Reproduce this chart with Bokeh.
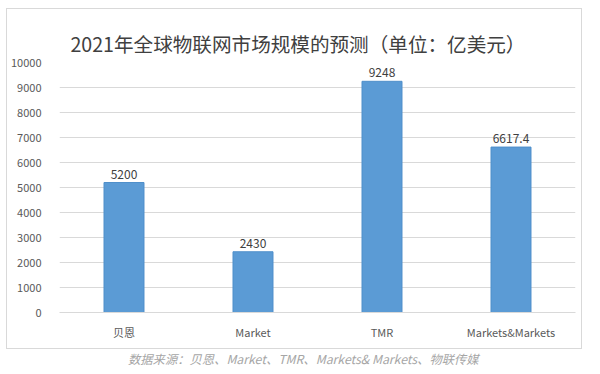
from bokeh.plotting import figure
from bokeh.models import ColumnDataSource, LabelSet, Title, FactorRange, Div
from bokeh.layouts import column
from bokeh.core.properties import value
from bokeh.embed import file_html
from bokeh.resources import INLINE

categories = ["贝恩", "Market", "TMR", "Markets&Markets"]
values = [5200, 2430, 9248, 6617.4]
value_labels = ["5200", "2430", "9248", "6617.4"]
y_ticks = [0, 1000, 2000, 3000, 4000, 5000, 6000, 7000, 8000, 9000, 10000]

title_text = "2021年全球物联网市场规模的预测（单位：亿美元）"
source_text = "数据来源：贝恩、Market、TMR、Markets& Markets、物联传媒"

FONT = "Noto Sans CJK SC"

src = ColumnDataSource(dict(cat=categories, val=values, lab=value_labels))

p = figure(width=576, height=341, x_range=FactorRange(*categories, range_padding=0),
           y_range=(0, 10000), output_backend="svg", toolbar_location=None,
           min_border_left=52, min_border_right=8, min_border_top=53, min_border_bottom=38,
           margin=(8, 0, 0, 6), styles={"border": "1px solid #d9d9d9", "box-sizing": "border-box"})
p.title = None
p.background_fill_color = "white"
p.border_fill_color = "white"
p.outline_line_color = None

t = Title(text=title_text, align="left", offset=11, text_font=FONT, text_font_size="19.6px",
          text_font_style="normal", text_color="#404040", standoff=5, vertical_align="top")
p.add_layout(t, "above")

p.vbar(x="cat", top="val", width=0.31, source=src, fill_color="#5b9bd5", line_color="#4f8fca")

labels = LabelSet(x="cat", y="val", text="lab", source=src, text_align="center",
                  text_baseline="bottom", y_offset=4, text_font=value(FONT), text_font_size=value("12px"),
                  text_color="#404040")
p.add_layout(labels)

p.yaxis.ticker = y_ticks
p.ygrid.grid_line_color = "#d9d9d9"
p.ygrid.grid_line_width = 1
p.xgrid.grid_line_color = None
p.yaxis.axis_line_color = None
p.yaxis.major_tick_line_color = None
p.yaxis.minor_tick_line_color = None
p.yaxis.major_label_standoff = 12
p.yaxis.major_label_text_font = FONT
p.yaxis.major_label_text_font_size = "11px"
p.yaxis.major_label_text_color = "#595959"

p.xaxis.axis_line_color = "#d9d9d9"
p.xaxis.major_tick_line_color = None
p.xaxis.minor_tick_line_color = None
p.xaxis.major_label_standoff = 5
p.xaxis.major_label_text_font = FONT
p.xaxis.major_label_text_font_size = "11px"
p.xaxis.major_label_text_color = "#595959"

div = Div(text=source_text, width=470, height=20, margin=(2, 0, 0, 128),
          styles={"font-family": FONT, "font-style": "italic", "font-size": "12.3px",
                  "color": "#a6a6a6", "line-height": "16px", "white-space": "nowrap"})

layout = column(p, div, spacing=0)

open("out.html", "w").write(file_html(layout, INLINE))
